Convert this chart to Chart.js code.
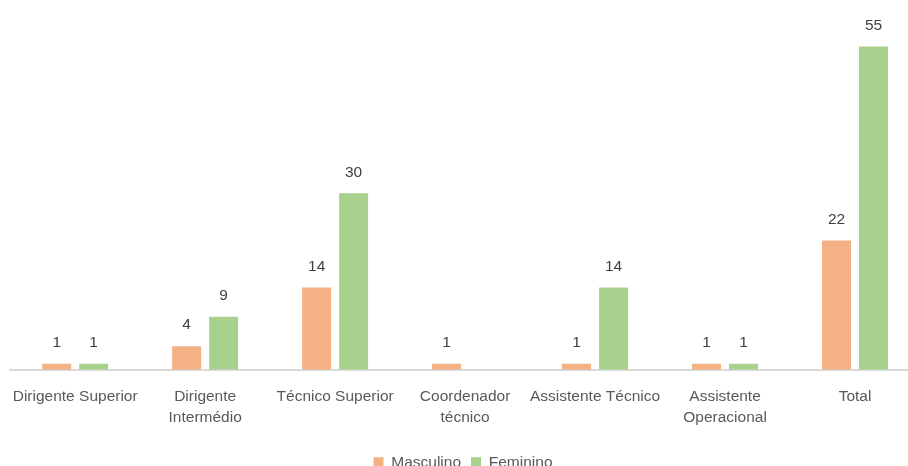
<!DOCTYPE html>
<html>
<head>
<meta charset="utf-8">
<script src="https://cdn.jsdelivr.net/npm/chart.js@4.4.1/dist/chart.umd.min.js"></script>
<style>
  html, body { margin: 0; padding: 0; background: #ffffff; overflow: hidden; }
  #wrap { width: 926px; height: 482px; position: relative; margin-left: -4px; }
</style>
</head>
<body>
<div id="wrap"><canvas id="chart"></canvas></div>
<script>
// Staff by job category and sex
const categories = [
  "Dirigente Superior",
  ["Dirigente", "Intermédio"],
  "Técnico Superior",
  ["Coordenador", "técnico"],
  "Assistente Técnico",
  ["Assistente", "Operacional"],
  "Total"
];
const masculino = [1, 4, 14, 1, 1, 1, 22];
const feminino = [1, 9, 30, null, 14, 1, 55];
const seriesNames = ["Masculino", "Feminino"];
const seriesColors = ["#F4B183", "#A9D18E"];
const yMax = 60;

const FONT = "'Liberation Sans', Arial, sans-serif";

// Writes each bar's value just above it
const valueLabels = {
  id: "valueLabels",
  afterDatasetsDraw(chart) {
    const ctx = chart.ctx;
    ctx.save();
    ctx.font = "15.5px " + FONT;
    ctx.fillStyle = "#404040";
    ctx.textAlign = "center";
    ctx.textBaseline = "middle";
    chart.data.datasets.forEach((ds, i) => {
      const meta = chart.getDatasetMeta(i);
      meta.data.forEach((bar, j) => {
        const v = ds.data[j];
        if (v === null || v === undefined) return;
        ctx.fillText(String(v), bar.x, bar.y - 21);
      });
    });
    ctx.restore();
  }
};

new Chart(document.getElementById("chart"), {
  type: "bar",
  data: {
    labels: categories,
    datasets: [
      { label: seriesNames[0], data: masculino, backgroundColor: seriesColors[0] },
      { label: seriesNames[1], data: feminino, backgroundColor: seriesColors[1] }
    ]
  },
  options: {
    responsive: true,
    maintainAspectRatio: false,
    animation: false,
    events: [],
    datasets: { bar: { barPercentage: 0.784, categoryPercentage: 0.569 } },
    layout: { padding: { left: 10, right: 2, top: 17, bottom: 2 } },
    scales: {
      x: {
        grid: { display: false, drawTicks: false },
        border: { display: true, color: "#d9d9d9", width: 2 },
        ticks: {
          color: "#595959",
          font: { family: FONT, size: 15.5, lineHeight: 1.38 },
          maxRotation: 0,
          autoSkip: false,
          padding: 16
        }
      },
      y: {
        display: false,
        min: 0,
        max: yMax
      }
    },
    plugins: {
      legend: {
        position: "bottom",
        labels: {
          color: "#595959",
          font: { family: FONT, size: 15.5 },
          boxWidth: 10,
          boxHeight: 10,
          padding: 10
        }
      },
      tooltip: { enabled: false }
    }
  },
  plugins: [valueLabels]
});
</script>
</body>
</html>
